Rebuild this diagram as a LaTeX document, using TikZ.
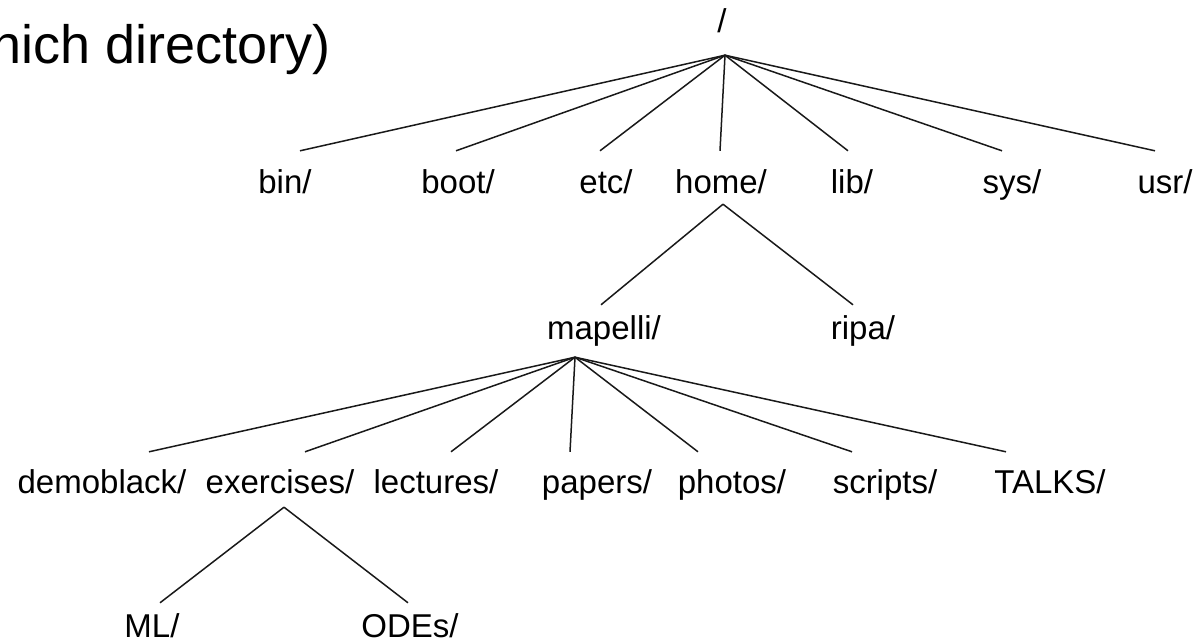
\documentclass[tikz,border=0pt]{standalone}
\usepackage{fontspec}
\setmainfont{Liberation Sans}
\begin{document}
\begin{tikzpicture}[x=1pt,y=-1pt,
  lbl/.style={anchor=base,inner sep=0pt,text height=24pt,text depth=7pt,
    font=\fontsize{33}{40}\selectfont},
  edge/.style={line width=1.5pt,draw=black!90}]
\useasboundingbox (0,0) rectangle (1198,640);
\node[anchor=base east,inner sep=0pt,font=\fontsize{54}{60}\selectfont] (title) at (331,63) {hich directory)};
% level 0
\node[lbl] (root) at (722,32) {/};
% level 1
\node[lbl] (bin)  at (285,193) {bin/};
\node[lbl] (boot) at (458,193) {boot/};
\node[lbl] (etc)  at (606,193) {etc/};
\node[lbl] (home) at (721,193) {home/};
\node[lbl] (lib)  at (852,193) {lib/};
\node[lbl] (sys)  at (1012,193) {sys/};
\node[lbl] (usr)  at (1165,193) {usr/};
% level 2
\node[lbl] (mapelli) at (604,339) {mapelli/};
\node[lbl] (ripa)    at (863,339) {ripa/};
% level 3
\node[lbl] (demoblack) at (102,493) {demoblack/};
\node[lbl] (exercises) at (280,493) {exercises/};
\node[lbl] (lectures)  at (436,493) {lectures/};
\node[lbl] (papers)    at (597,493) {papers/};
\node[lbl] (photos)    at (732,493) {photos/};
\node[lbl] (scripts)   at (885,493) {scripts/};
\node[lbl] (talks)     at (1050,493) {TALKS/};
% level 4
\node[lbl] (ml)   at (152,637) {ML/};
\node[lbl] (odes) at (410,637) {ODEs/};
% junctions
\coordinate (rootJ) at ([xshift=3pt,yshift=-16pt]root.south);
\coordinate (homeJ) at ([xshift=2pt,yshift=-4pt]home.south);
\coordinate (mapJ)  at ([xshift=-29pt,yshift=-11pt]mapelli.south);
\coordinate (exJ)   at ([xshift=4pt,yshift=-7pt]exercises.south);
% edges
\draw[edge] (rootJ) -- ([xshift=15pt,yshift=18pt]bin.north);
\draw[edge] (rootJ) -- ([xshift=-2pt,yshift=18pt]boot.north);
\draw[edge] (rootJ) -- ([xshift=-6pt,yshift=18pt]etc.north);
\draw[edge] (rootJ) -- ([xshift=-1pt,yshift=18pt]home.north);
\draw[edge] (rootJ) -- ([xshift=-4pt,yshift=18pt]lib.north);
\draw[edge] (rootJ) -- ([xshift=-10pt,yshift=18pt]sys.north);
\draw[edge] (rootJ) -- ([xshift=-10pt,yshift=18pt]usr.north);
\draw[edge] (homeJ) -- ([xshift=-3pt,yshift=10pt]mapelli.north);
\draw[edge] (homeJ) -- ([xshift=-10pt,yshift=10pt]ripa.north);
\draw[edge] (mapJ) -- ([xshift=47pt,yshift=17pt]demoblack.north);
\draw[edge] (mapJ) -- ([xshift=25pt,yshift=17pt]exercises.north);
\draw[edge] (mapJ) -- ([xshift=15pt,yshift=17pt]lectures.north);
\draw[edge] (mapJ) -- ([xshift=-27pt,yshift=17pt]papers.north);
\draw[edge] (mapJ) -- ([xshift=-34pt,yshift=17pt]photos.north);
\draw[edge] (mapJ) -- ([xshift=-33pt,yshift=17pt]scripts.north);
\draw[edge] (mapJ) -- ([xshift=-44pt,yshift=17pt]talks.north);
\draw[edge] (exJ) -- ([xshift=8pt,yshift=10pt]ml.north);
\draw[edge] (exJ) -- ([xshift=-2pt,yshift=10pt]odes.north);
\end{tikzpicture}
\end{document}
